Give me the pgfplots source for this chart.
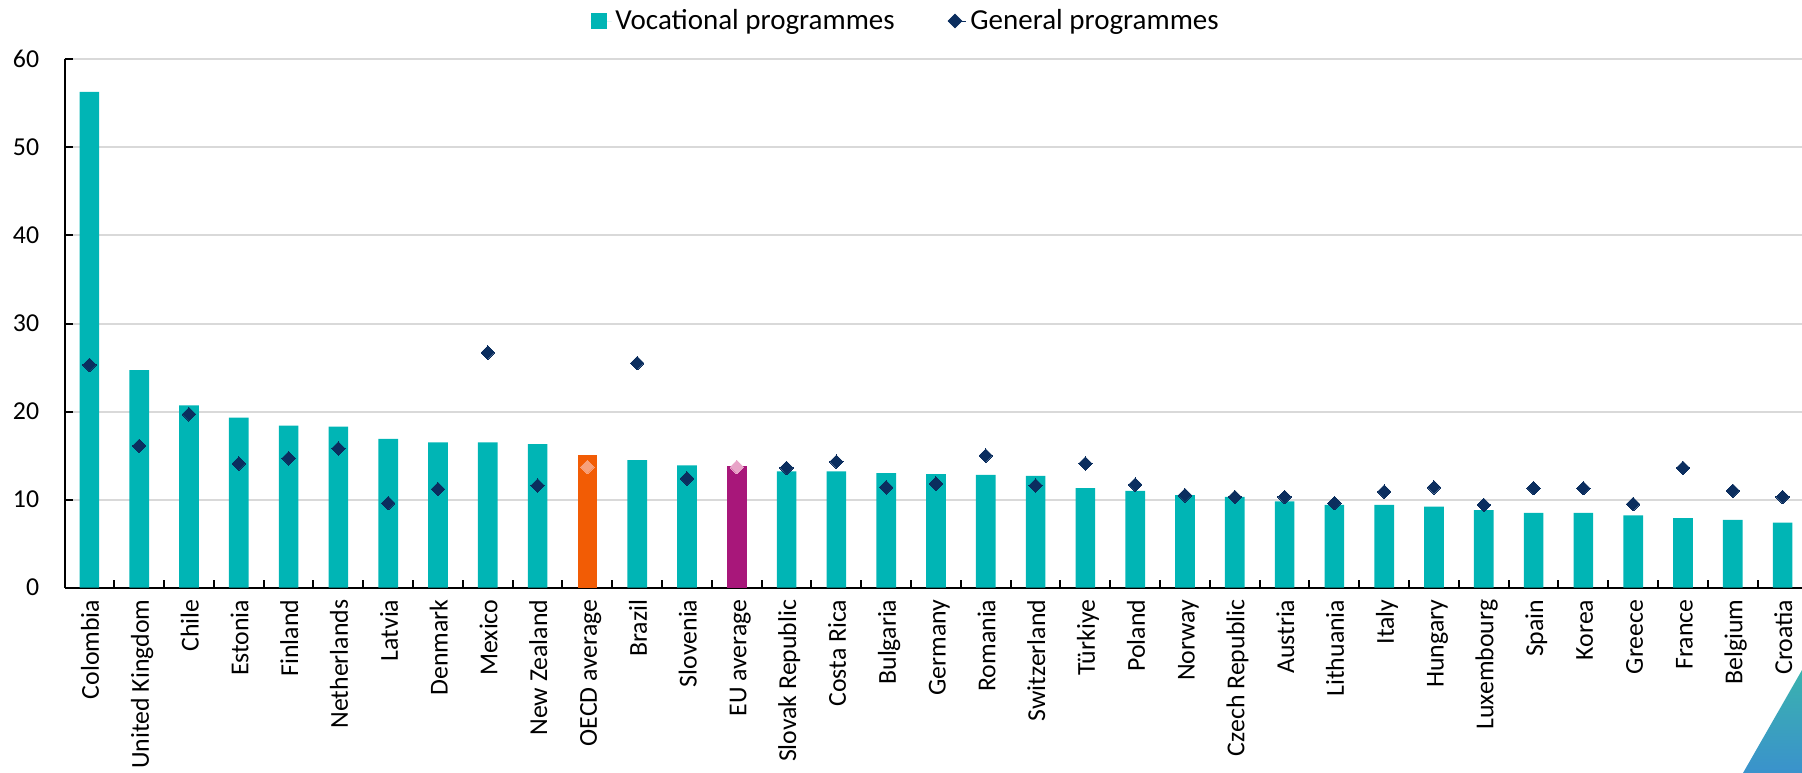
\documentclass[border=0pt]{standalone}
\usepackage{fontspec}
\setmainfont{Carlito}
\usepackage{pgfplots}
\pgfplotsset{compat=1.18}
\usepackage{pgfplotstable}
\definecolor{tealbar}{HTML}{00B5B5}
\definecolor{oecdbar}{HTML}{F25C05}
\definecolor{eubar}{HTML}{A8177A}
\definecolor{navy}{HTML}{0B2E5F}
\definecolor{oecddia}{HTML}{F7A07A}
\definecolor{eudia}{HTML}{E8A4C8}
\definecolor{gridgray}{HTML}{D9D9D9}
\definecolor{trtop}{HTML}{3AB2AE}
\definecolor{trbot}{HTML}{3A92CC}

\pgfplotstableread{
x voc
0 56.3
1 24.7
2 20.7
3 19.3
4 18.4
5 18.3
6 16.9
7 16.5
8 16.5
9 16.3
11 14.5
12 13.9
14 13.2
15 13.2
16 13.0
17 12.9
18 12.8
19 12.7
20 11.3
21 11.0
22 10.5
23 10.3
24 9.8
25 9.4
26 9.4
27 9.2
28 8.8
29 8.5
30 8.5
31 8.2
32 7.9
33 7.7
34 7.4
}\vocdata

\pgfplotstableread{
x gen
0 25.3
1 16.1
2 19.7
3 14.1
4 14.7
5 15.8
6 9.6
7 11.2
8 26.7
9 11.6
11 25.5
12 12.4
14 13.6
15 14.3
16 11.4
17 11.8
18 15.0
19 11.6
20 14.1
21 11.7
22 10.5
23 10.3
24 10.3
25 9.6
26 10.9
27 11.4
28 9.4
29 11.3
30 11.3
31 9.5
32 13.6
33 11.0
34 10.3
}\gendata

\begin{document}
\begin{tikzpicture}
\path[use as bounding box] (0,0) rectangle (901bp,386.5bp);
\begin{axis}[
  at={(32.25bp,92.65bp)}, anchor=south west,
  scale only axis, width=868.75bp, height=264.2bp,
  xmin=-0.5, xmax=34.39, ymin=0, ymax=60,
  axis x line*=bottom, axis y line*=left,
  axis line style={black, line width=1bp},
  xtick={0,...,34},
  xticklabels={Colombia,United Kingdom,Chile,Estonia,Finland,Netherlands,Latvia,Denmark,Mexico,New Zealand,OECD average,Brazil,Slovenia,EU average,Slovak Republic,Costa Rica,Bulgaria,Germany,Romania,Switzerland,Türkiye,Poland,Norway,Czech Republic,Austria,Lithuania,Italy,Hungary,Luxembourg,Spain,Korea,Greece,France,Belgium,Croatia},
  minor xtick={0.5,1.5,...,33.5},
  major x tick style={draw=none},
  minor x tick style={black, line width=1bp},
  ytick={0,10,...,60},
  y tick style={black, line width=1bp},
  tick align=inside,
  major tick length=4bp, minor tick length=4bp,
  ymajorgrids, grid style={gridgray, line width=1bp},
  /pgf/number format/assume math mode=true,
  xticklabel style={font=\fontsize{12.9bp}{15bp}\selectfont, rotate=90, anchor=east, inner sep=0pt, text height=9.6bp, text depth=0pt},
  xticklabel shift=5.8bp,
  yticklabel style={font=\fontsize{12.9bp}{15bp}\selectfont, inner sep=0pt},
  yticklabel shift=12.5bp,
  legend columns=2,
  legend style={draw=none, fill=none, font=\fontsize{14.5bp}{17bp}\selectfont,
    at={(0.3025,1)}, anchor=west, yshift=19.15bp, inner sep=0pt,
    /tikz/every even column/.append style={column sep=24.5bp}},
]
\addplot[ybar, bar width=0.395, bar shift=0pt, fill=tealbar, draw=none,
  legend image code/.code={\fill[tealbar] (0bp,-4bp) rectangle (8bp,4bp); \path (0bp,0bp) -- (10.5bp,0bp);}]
  table[x=x,y=voc]{\vocdata};
\addlegendentry{Vocational programmes}
\addplot[ybar, bar width=0.395, bar shift=0pt, fill=oecdbar, draw=none, forget plot]
  coordinates {(10,15.1)};
\addplot[ybar, bar width=0.395, bar shift=0pt, fill=eubar, draw=none, forget plot]
  coordinates {(13,13.8)};
\addplot[only marks, color=navy, mark=square*, mark size=2.4bp, mark options={rotate=45, fill=navy, draw=navy, line width=0pt},
  legend image code/.code={\fill[navy,rotate=45] (-2.4bp,-2.4bp) rectangle (2.4bp,2.4bp); \path (-3.4bp,0bp) -- (5.5bp,0bp);}]
  table[x=x,y=gen]{\gendata};
\addlegendentry{General programmes}
\addplot[only marks, color=oecddia, mark=square*, mark size=2.4bp, mark options={rotate=45, fill=oecddia, draw=oecddia, line width=0pt}, forget plot]
  coordinates {(10,13.7)};
\addplot[only marks, color=eudia, mark=square*, mark size=2.4bp, mark options={rotate=45, fill=eudia, draw=eudia, line width=0pt}, forget plot]
  coordinates {(13,13.7)};
\end{axis}
\shade[top color=trtop, bottom color=trbot] (901bp,51.5bp) -- (871.5bp,0bp) -- (901bp,0bp) -- cycle;
\end{tikzpicture}
\end{document}
